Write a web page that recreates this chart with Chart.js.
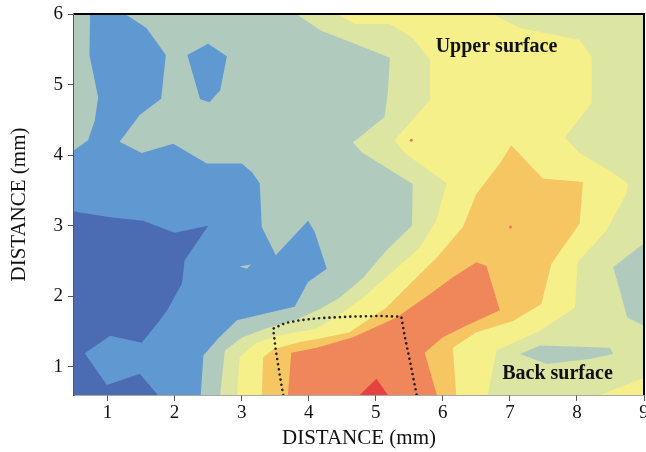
<!DOCTYPE html>
<html>
<head>
<meta charset="utf-8">
<script src="https://cdn.jsdelivr.net/npm/chart.js@4"></script>
<style>
  html, body { margin: 0; padding: 0; background: #fff; }
  #wrap { width: 646px; height: 452px; }
</style>
</head>
<body>
<div id="wrap"><canvas id="contour" width="646" height="452"></canvas></div>
<script>
// -------- contour levels (x, y in mm) -------- //
var xTicks = [1, 2, 3, 4, 5, 6, 7, 8, 9];
var yTicks = [1, 2, 3, 4, 5, 6];

// pale green and warmer (everything not gray-green / blue)
var level3 = [[3.82,6],[4.17,5.77],[4.66,5.59],[5.21,5.38],[5.18,4.88],[5.13,4.54],[4.66,4.18],[4.79,4.04],
  [5.55,3.59],[5.54,3.0],[5.16,2.65],[4.81,2.26],[4.46,1.98],[4.17,1.82],[3.82,1.67],[3.38,1.55],[3.0,1.41],
  [2.75,1.23],[2.68,0.6],[9,0.6],[9,6]];
// yellow and warmer
var level4 = [[4.42,6],[4.69,5.86],[5.21,5.86],[5.55,5.66],[5.81,5.35],[5.81,4.78],[5.28,4.21],[5.43,4.03],
  [6.06,3.6],[5.9,3.07],[5.66,2.69],[5.24,2.34],[4.81,1.98],[4.46,1.74],[4.12,1.54],[3.53,1.44],[3.2,1.33],
  [2.97,1.13],[2.93,0.6],[6.67,0.6],[6.8,1.23],[7.45,1.51],[7.97,1.84],[8.01,2.48],[8.44,2.93],[8.74,3.46],
  [8.76,3.6],[8.49,3.78],[8.04,4.03],[7.82,4.25],[8.22,4.74],[8.22,5.39],[8.04,5.63],[7.15,5.8],[6.74,6]];
var level4Corner = [[8.34,0.6],[9,0.84],[9,0.6]];
// light orange and warmer
var level5 = [[3.3,0.6],[3.32,1.13],[3.47,1.25],[3.87,1.35],[4.17,1.4],[4.61,1.49],[5.16,1.84],[5.56,2.22],
  [5.91,2.55],[6.3,2.98],[6.5,3.45],[6.85,3.88],[7.02,4.14],[7.49,3.67],[8.09,3.62],[8.04,3.03],[7.62,2.46],
  [7.47,1.89],[7.05,1.65],[6.5,1.49],[6.15,1.27],[6.2,0.6]];
// orange-red and warmer
var level6 = [[3.69,0.6],[3.74,1.2],[4.12,1.27],[4.66,1.42],[5.31,1.7],[5.81,2.03],[6.15,2.27],[6.5,2.48],
  [6.65,2.43],[6.85,1.8],[6.3,1.56],[6.0,1.42],[5.73,1.2],[5.91,0.6]];
var level7 = [[4.76,0.6],[5.01,0.83],[5.18,0.6]];
// gray-green pockets inside the warm side
var grayRight = [[9,2.75],[8.54,2.41],[8.64,2.08],[8.75,1.7],[9,1.58]];
var grayBack = [[7.15,1.18],[7.45,1.3],[8.49,1.27],[8.54,1.18],[8.19,1.11],[7.55,1.04]];
// blue side
var level1 = [[0.5,4.07],[0.71,4.21],[0.81,4.49],[0.86,4.82],[0.73,5.42],[0.74,6],[1.26,6],[1.58,5.8],
  [1.87,5.42],[1.8,4.8],[1.48,4.57],[1.18,4.19],[1.51,4.03],[1.98,4.16],[2.48,3.88],[3.0,3.88],[3.15,3.76],
  [3.27,3.6],[3.3,2.98],[3.51,2.58],[3.99,3.07],[4.09,2.91],[4.27,2.39],[3.99,2.2],[3.79,1.85],[3.37,1.76],
  [2.93,1.66],[2.65,1.4],[2.43,1.16],[2.39,0.6],[0.5,0.6]];
var level1Island = [[2.19,5.42],[2.5,5.58],[2.78,5.4],[2.68,4.92],[2.52,4.75],[2.38,4.79]];
var level0 = [[0.5,3.2],[1.04,3.12],[1.53,3.07],[2.0,2.9],[2.5,3.0],[2.38,2.83],[2.15,2.51],[2.11,2.18],
  [1.89,1.8],[1.74,1.61],[1.51,1.34],[1.04,1.44],[0.66,1.19],[0.99,0.74],[1.48,0.9],[1.75,0.6],[0.5,0.6]];
var grayFleck = [[2.97,2.42],[3.14,2.45],[3.08,2.39]];
var hotSpots = [[5.53,4.21],[7.01,2.98]];
// dotted outline
var outline = [[3.62,0.6],[3.57,0.87],[3.51,1.23],[3.47,1.54],[3.65,1.62],[3.87,1.66],[4.17,1.69],[4.61,1.71],
  [5.06,1.72],[5.38,1.71],[5.43,1.44],[5.51,1.08],[5.61,0.6]];

var C = {
  dark: '#4b6cb3', blue: '#6098d2', gray: '#b0cbbe', pale: '#dde5a3',
  yellow: '#f6f08a', lorange: '#f6c662', orange: '#ef875a', red: '#e4413f'
};

function pts(a) { return a.map(function (p) { return {x: p[0], y: p[1]}; }); }
function poly(name, arr, color) {
  return { label: name, data: pts(arr), polygon: true, backgroundColor: color,
           pointRadius: 0, showLine: false };
}

var serif = '"Liberation Serif", "DejaVu Serif", serif';

var contourPlugin = {
  id: 'contourPlugin',
  beforeDatasetsDraw: function (chart) {
    var ctx = chart.ctx, a = chart.chartArea;
    ctx.save();
    ctx.beginPath();
    ctx.rect(a.left, a.top, a.right - a.left, a.bottom - a.top);
    ctx.clip();
    ctx.fillStyle = C.gray;
    ctx.fillRect(a.left, a.top, a.right - a.left, a.bottom - a.top);
    chart.data.datasets.forEach(function (ds, i) {
      if (!ds.polygon) return;
      var el = chart.getDatasetMeta(i).data;
      ctx.beginPath();
      el.forEach(function (p, j) { if (j) ctx.lineTo(p.x, p.y); else ctx.moveTo(p.x, p.y); });
      ctx.closePath();
      ctx.fillStyle = ds.backgroundColor;
      ctx.fill();
    });
    ctx.restore();
  },
  afterDatasetsDraw: function (chart) {
    var ctx = chart.ctx, a = chart.chartArea;
    var sx = chart.scales.x, sy = chart.scales.y;
    ctx.save();
    ctx.fillStyle = '#111';
    ctx.font = 'bold 20px ' + serif;
    ctx.textAlign = 'center';
    ctx.textBaseline = 'middle';
    ctx.fillText('Upper surface', sx.getPixelForValue(6.8), sy.getPixelForValue(5.53));
    ctx.fillText('Back surface', sx.getPixelForValue(7.71), sy.getPixelForValue(0.9));
    // frame on top and right
    ctx.strokeStyle = '#000';
    ctx.lineWidth = 2;
    ctx.beginPath();
    ctx.moveTo(a.left, a.top);
    ctx.lineTo(a.right, a.top);
    ctx.lineTo(a.right, a.bottom);
    ctx.stroke();
    ctx.restore();
  }
};

var ctx1 = document.getElementById('contour').getContext('2d');

new Chart(ctx1, {
  type: 'scatter',
  data: {
    datasets: [
      poly('level3', level3, C.pale),
      poly('level4', level4, C.yellow),
      poly('level4b', level4Corner, C.yellow),
      poly('level5', level5, C.lorange),
      poly('level6', level6, C.orange),
      poly('level7', level7, C.red),
      poly('grayRight', grayRight, C.gray),
      poly('grayBack', grayBack, C.gray),
      poly('level1', level1, C.blue),
      poly('level1b', level1Island, C.blue),
      poly('level0', level0, C.dark),
      poly('fleck', grayFleck, C.gray),
      {
        label: 'spots', data: pts(hotSpots), pointRadius: 1.5,
        backgroundColor: '#ec7a55', borderWidth: 0
      },
      {
        label: 'outline', data: pts(outline), showLine: true, pointRadius: 0,
        borderColor: '#222', borderWidth: 2.6, borderDash: [0.01, 5.2],
        borderCapStyle: 'round', fill: false
      }
    ]
  },
  options: {
    responsive: false,
    animation: false,
    events: [],
    layout: { autoPadding: false, padding: { top: 14, right: 2, left: 0, bottom: 0 } },
    plugins: { legend: { display: false }, tooltip: { enabled: false } },
    scales: {
      x: {
        type: 'linear', min: 0.5, max: 9,
        afterBuildTicks: function (s) { s.ticks = xTicks.map(function (v) { return {value: v}; }); },
        afterFit: function (s) { s.paddingLeft = 0; s.paddingRight = 0; s.height = 57; },
        grid: { drawOnChartArea: false, drawTicks: true, tickLength: 6, color: '#555' },
        border: { display: true, color: '#555', width: 1.5 },
        ticks: { color: '#111', font: { family: serif, size: 19 }, padding: 1, maxRotation: 0 },
        title: { display: true, text: 'DISTANCE (mm)', color: '#111',
                 font: { family: serif, size: 21 }, padding: { top: 0, bottom: 1 } }
      },
      y: {
        type: 'linear', min: 0.6, max: 6,
        afterBuildTicks: function (s) { s.ticks = yTicks.map(function (v) { return {value: v}; }); },
        afterFit: function (s) { s.paddingTop = 0; s.paddingBottom = 0; s.width = 74; },
        grid: { drawOnChartArea: false, drawTicks: true, tickLength: 6, color: '#555' },
        border: { display: true, color: '#555', width: 1.5 },
        ticks: { color: '#111', font: { family: serif, size: 19 }, padding: 5 },
        title: { display: true, text: 'DISTANCE (mm)', color: '#111',
                 font: { family: serif, size: 21 }, padding: { top: 7, bottom: 0 } }
      }
    }
  },
  plugins: [contourPlugin]
});
</script>
</body>
</html>
